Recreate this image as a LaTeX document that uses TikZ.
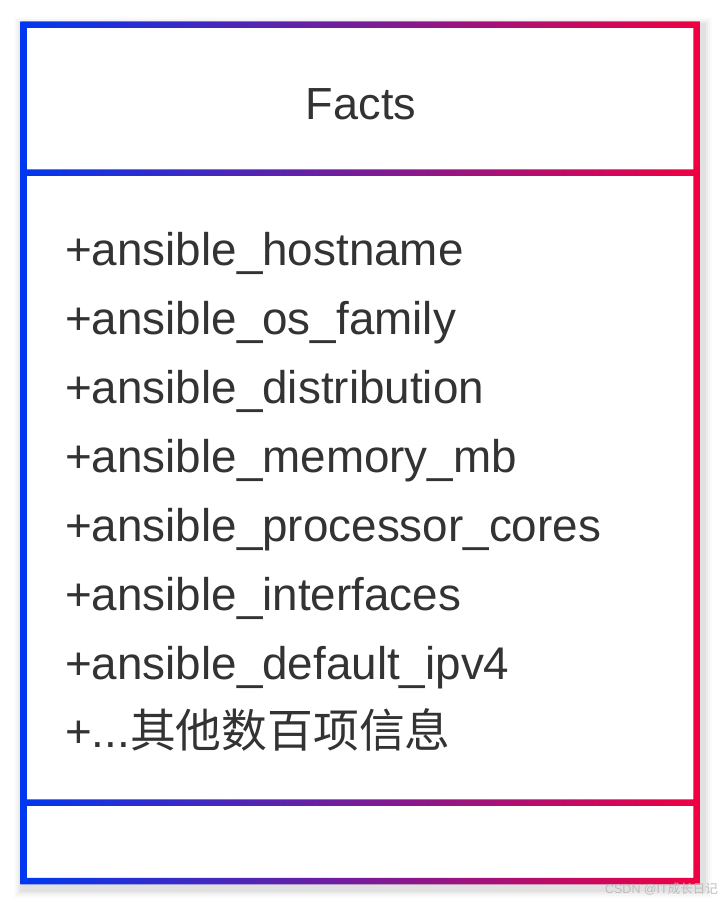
\documentclass[tikz,border=0pt]{standalone}
\usepackage{fontspec}
\setmainfont{Liberation Sans}
\newfontfamily\cjk{Noto Sans CJK SC}
\definecolor{txt}{HTML}{333333}
\definecolor{lblue}{RGB}{0,56,240}
\definecolor{rred}{RGB}{240,0,66}
\definecolor{wm}{HTML}{BDBDBD}
\begin{document}
\begin{tikzpicture}[x=1pt,y=-1pt,
  item/.style={anchor=base west,inner sep=0pt,text=txt,font=\fontsize{45.8}{54}\selectfont},
  title/.style={anchor=base,inner sep=0pt,text=txt,font=\fontsize{45}{54}\selectfont},
  watermark/.style={anchor=base east,inner sep=0pt,text=wm,font=\fontsize{12.5}{14}\selectfont}]
\useasboundingbox[fill=white] (0,0) rectangle (728,902);
% soft drop shadow
\foreach \o/\a in {9/0.015,7/0.025,5/0.035,3/0.045}{
  \fill[black,opacity=\a] (20.25-\o+3,21.25-\o+5) rectangle (699.75+\o+3,884.25+\o+5);
}
\fill[white] (20.25,21.25) rectangle (699.75,884.25);
% gradient frame
\shade[left color=lblue,right color=rred,even odd rule]
  (20.25,21.25) rectangle (699.75,884.25)
  (26.75,27.75) rectangle (693.25,169.25)
  (26.75,175.75) rectangle (693.25,799.25)
  (26.75,805.75) rectangle (693.25,877.75);
\node[title] (title) at (361,119.5) {Facts};
\node[item] (i1) at (65,265) {+ansible\_hostname};
\node[item] (i2) at (65,334) {+ansible\_os\_family};
\node[item] (i3) at (65,403) {+ansible\_distribution};
\node[item] (i4) at (65,472) {+ansible\_memory\_mb};
\node[item] (i5) at (65,541) {+ansible\_processor\_cores};
\node[item] (i6) at (65,610) {+ansible\_interfaces};
\node[item] (i7) at (65,679) {+ansible\_default\_ipv4};
\node[item] (i8) at (65,747) {+...{\cjk 其他数百项信息}};
\node[watermark] (wmk) at (718,893) {CSDN @IT{\cjk 成长日记}};
\end{tikzpicture}
\end{document}
